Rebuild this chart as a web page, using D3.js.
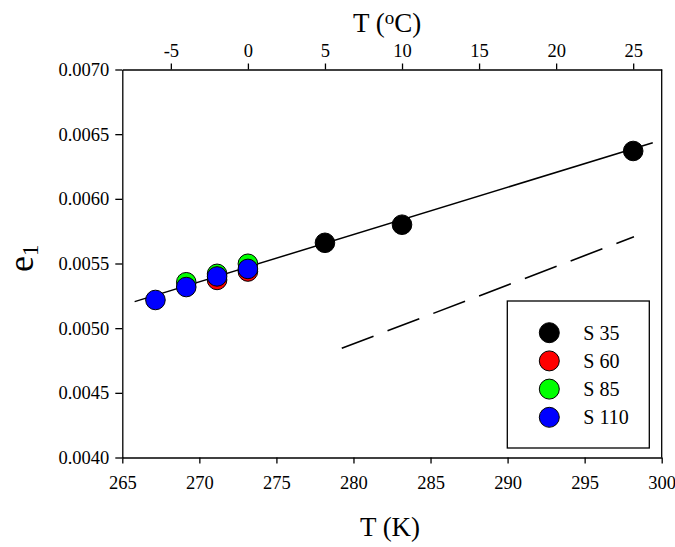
<!DOCTYPE html>
<html><head><meta charset="utf-8">
<script src="https://cdn.jsdelivr.net/npm/d3@7"></script>
<style>
body{margin:0;background:#fff;}
svg{display:block;font-family:"Liberation Serif","Times New Roman",serif;}
</style></head>
<body>
<svg id="chart" width="675" height="547"></svg>
<script>
// ---- data ----
const xTicksK = [265, 270, 275, 280, 285, 290, 295, 300];
const xTicksC = [-5, 0, 5, 10, 15, 20, 25];
const yTicks = [0.0040, 0.0045, 0.0050, 0.0055, 0.0060, 0.0065, 0.0070];

const seriesNames = ["S 35", "S 60", "S 85", "S 110"];
const seriesColors = ["#000000", "#ff0000", "#00ff00", "#0000ff"];

const tempS35 = [278.15, 283.15, 298.15];
const e1S35 = [0.00566, 0.00580, 0.00637];
const tempS60 = [271.15, 273.15];
const e1S60 = [0.005373, 0.005438];
const tempS85 = [269.15, 271.15, 273.15];
const e1S85 = [0.005355, 0.00542, 0.005498];
const tempS110 = [267.15, 269.15, 271.15, 273.15];
const e1S110 = [0.005218, 0.005318, 0.00540, 0.005458];

const fitLineT = [265.8, 299.42];
const fitLineE = [0.005205, 0.006434];
const dashLineT = [279.24, 298.2];
const dashLineE = [0.004844, 0.005707];

// ---- layout ----
const svg = d3.select("#chart");
const X0 = 122.3, X1 = 661.7, Y0 = 457.5, Y1 = 69.5;
const x = d3.scaleLinear().domain([265, 300]).range([X0, X1]);
const xc = d3.scaleLinear().domain([265 - 273.15, 300 - 273.15]).range([X0, X1]);
const y = d3.scaleLinear().domain([0.004, 0.007]).range([Y0, Y1]);

const axisStyle = g => {
  g.selectAll("path, line").attr("stroke", "#000").attr("stroke-width", 1.3);
  g.selectAll("text").attr("fill", "#000").style("font-size", "18.5px")
   .style("font-family", '"Liberation Serif","Times New Roman",serif');
};

svg.append("g").attr("transform", `translate(0,${Y0})`)
  .call(d3.axisBottom(x).tickValues(xTicksK).tickFormat(d3.format("d")).tickSize(6).tickSizeOuter(0).tickPadding(12))
  .call(axisStyle);
svg.append("g").attr("transform", `translate(0,${Y1})`)
  .call(d3.axisTop(xc).tickValues(xTicksC).tickFormat(d => String(d)).tickSize(6).tickSizeOuter(0).tickPadding(7))
  .call(axisStyle);
svg.append("g").attr("transform", `translate(${X0},0)`)
  .call(d3.axisLeft(y).tickValues(yTicks).tickFormat(d3.format(".4f")).tickSize(7).tickSizeOuter(0).tickPadding(6))
  .call(axisStyle);
svg.append("line").attr("x1", X1).attr("x2", X1).attr("y1", Y0).attr("y2", Y1)
  .attr("stroke", "#000").attr("stroke-width", 1.3);

// ---- lines ----
const lineGen = d3.line().x(d => x(d[0])).y(d => y(d[1]));
svg.append("path").datum(d3.zip(fitLineT, fitLineE)).attr("d", lineGen)
  .attr("fill", "none").attr("stroke", "#000").attr("stroke-width", 1.5);
svg.append("path").datum(d3.zip(dashLineT, dashLineE)).attr("d", lineGen)
  .attr("fill", "none").attr("stroke", "#000").attr("stroke-width", 1.6)
  .attr("stroke-dasharray", "34,15");

// ---- points ----
const allSeries = [
  [tempS35, e1S35], [tempS60, e1S60], [tempS85, e1S85], [tempS110, e1S110]
];
allSeries.forEach((s, i) => {
  svg.append("g").selectAll("circle").data(d3.zip(s[0], s[1])).join("circle")
    .attr("cx", d => x(d[0])).attr("cy", d => y(d[1])).attr("r", 9.8)
    .attr("fill", seriesColors[i]).attr("stroke", "#000").attr("stroke-width", 1);
});

// ---- legend ----
const lg = svg.append("g");
lg.append("rect").attr("x", 507.3).attr("y", 301).attr("width", 142).attr("height", 147)
  .attr("fill", "#fff").attr("stroke", "#000").attr("stroke-width", 1.3);
seriesNames.forEach((n, i) => {
  const cy = 332.7 + i * 28.2;
  lg.append("circle").attr("cx", 549.3).attr("cy", cy).attr("r", 10)
    .attr("fill", seriesColors[i]).attr("stroke", "#000").attr("stroke-width", 1);
  lg.append("text").attr("x", 583.3).attr("y", cy + 7).style("font-size", "20px").text(n);
});

// ---- titles ----
svg.append("text").attr("x", (X0 + X1) / 2 - 2).attr("y", 536).attr("text-anchor", "middle")
  .style("font-size", "27px").text("T (K)");
const tt = svg.append("text").attr("x", (X0 + X1) / 2 - 5).attr("y", 32).attr("text-anchor", "middle")
  .style("font-size", "27px");
tt.append("tspan").text("T (");
tt.append("tspan").attr("dy", -8).style("font-size", "19px").text("o");
tt.append("tspan").attr("dy", 8).text("C)");

const yt = svg.append("text").attr("transform", "translate(33,272) rotate(-90)")
  .attr("text-anchor", "start").style("font-size", "36px");
yt.append("tspan").text("e");
yt.append("tspan").attr("dy", 5).style("font-size", "23px").text("1");
</script>
</body></html>
